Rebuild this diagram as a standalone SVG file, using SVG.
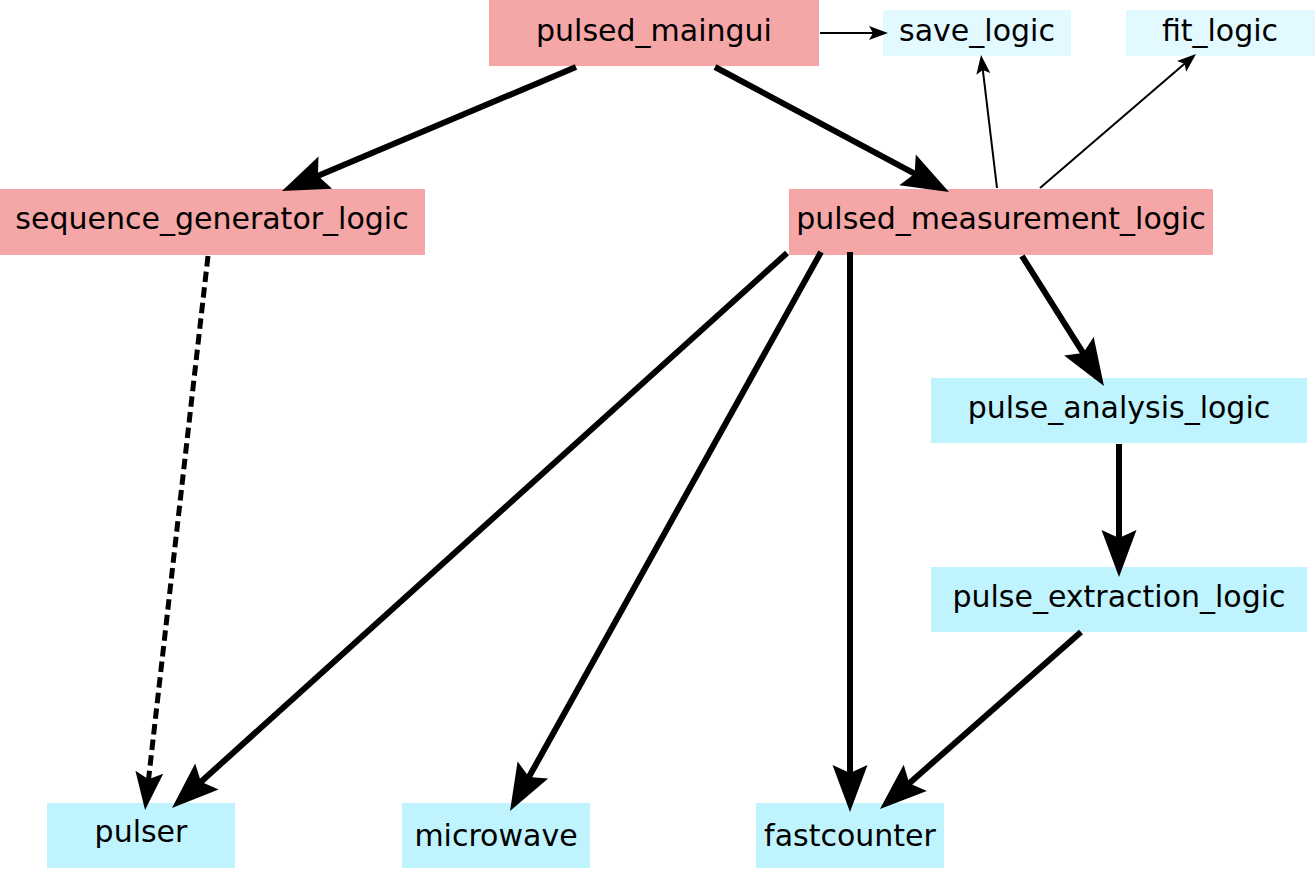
<svg xmlns="http://www.w3.org/2000/svg" width="1315" height="869" viewBox="0 0 1315 869">
<style>
.pink{fill:#f5a6a6}
.cyan{fill:#bff4ff}
.lcyan{fill:#e2f9ff}
text{font-family:"DejaVu Sans",sans-serif;font-size:30px;fill:#000;text-anchor:middle}
.thick{stroke:#000;stroke-width:6;fill:none;marker-end:url(#big)}
.dash{stroke:#000;stroke-width:5;fill:none;stroke-dasharray:10.5,5.2;marker-end:url(#med)}
.thin{stroke:#000;stroke-width:2;fill:none;marker-end:url(#small)}
</style>
<defs>
<marker id="big" markerUnits="userSpaceOnUse" markerWidth="47" markerHeight="35" viewBox="0 -17.5 47 35" refX="9" refY="0" orient="auto" overflow="visible"><path d="M0,-17.5 L47,0 L0,17.5 L8,0 Z" fill="#000"/></marker>
<marker id="med" markerUnits="userSpaceOnUse" markerWidth="38" markerHeight="28" viewBox="0 -14 38 28" refX="10" refY="0" orient="auto" overflow="visible"><path d="M0,-14 L38,0 L0,14 L7,0 Z" fill="#000"/></marker>
<marker id="small" markerUnits="userSpaceOnUse" markerWidth="19" markerHeight="14" viewBox="0 -7 19 14" refX="5" refY="0" orient="auto" overflow="visible"><path d="M0,-7 L19,0 L0,7 L4,0 Z" fill="#000"/></marker>
</defs>
<g id="nodes">
<g id="pulsed_maingui"><rect class="pink" x="489" y="0" width="330" height="66"/><text x="654" y="41">pulsed_maingui</text></g>
<g id="save_logic"><rect class="lcyan" x="883" y="10" width="188" height="46"/><text x="977" y="41">save_logic</text></g>
<g id="fit_logic"><rect class="lcyan" x="1126" y="10" width="189" height="46"/><text x="1220" y="41">fit_logic</text></g>
<g id="sequence_generator_logic"><rect class="pink" x="0" y="189" width="425" height="66"/><text x="212" y="229">sequence_generator_logic</text></g>
<g id="pulsed_measurement_logic"><rect class="pink" x="789" y="189" width="424" height="66"/><text x="1001" y="229">pulsed_measurement_logic</text></g>
<g id="pulse_analysis_logic"><rect class="cyan" x="931" y="378" width="376" height="65"/><text x="1119" y="418">pulse_analysis_logic</text></g>
<g id="pulse_extraction_logic"><rect class="cyan" x="931" y="567" width="376" height="65"/><text x="1119" y="607">pulse_extraction_logic</text></g>
<g id="pulser"><rect class="cyan" x="47" y="803" width="188" height="65"/><text x="141" y="842">pulser</text></g>
<g id="microwave"><rect class="cyan" x="402" y="803" width="188" height="65"/><text x="496" y="846">microwave</text></g>
<g id="fastcounter"><rect class="cyan" x="756" y="803" width="188" height="65"/><text x="850" y="846">fastcounter</text></g>
</g>
<g id="connectors">
<line class="thin" x1="820" y1="33" x2="874" y2="33"/>
<line class="thick" x1="576" y1="67" x2="317" y2="176.2"/>
<line class="thick" x1="715" y1="67" x2="915.5" y2="174.1"/>
<line class="thin" x1="997" y1="188" x2="982.7" y2="68.9"/>
<line class="thin" x1="1040" y1="188" x2="1185.4" y2="63.1"/>
<line class="dash" x1="208" y1="256" x2="148.2" y2="782.2"/>
<line class="thick" x1="787" y1="253" x2="200.2" y2="782.5"/>
<line class="thick" x1="821" y1="252" x2="528.5" y2="777.8"/>
<line class="thick" x1="850" y1="252" x2="850" y2="774"/>
<line class="thick" x1="1022" y1="256" x2="1083.7" y2="353.9"/>
<line class="thick" x1="1119" y1="444" x2="1119" y2="539"/>
<line class="thick" x1="1081" y1="632" x2="908.5" y2="783.9"/>
</g>
</svg>
